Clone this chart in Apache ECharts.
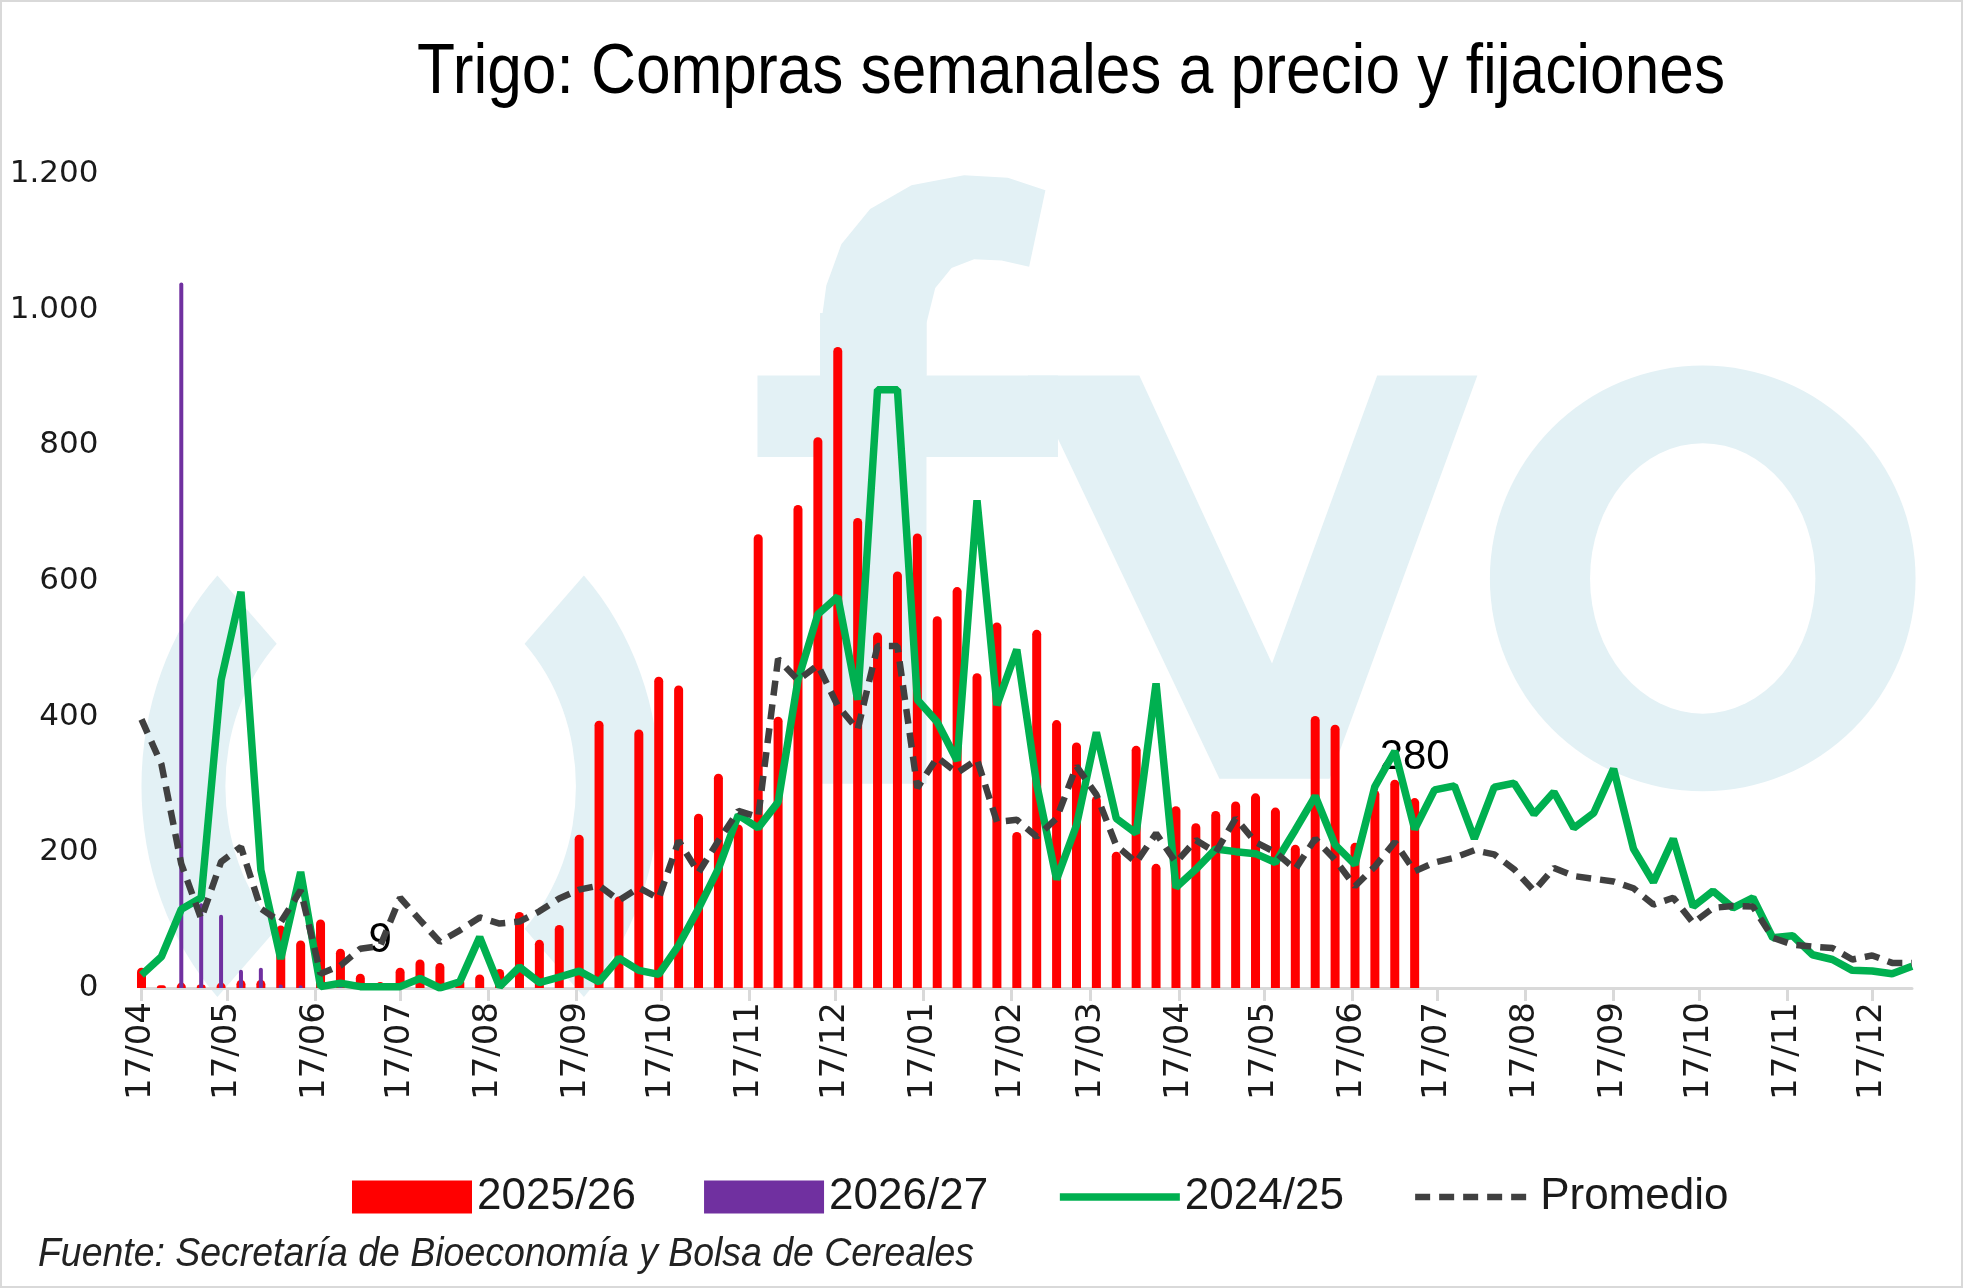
<!DOCTYPE html>
<html>
<head>
<meta charset="utf-8">
<script src="https://cdn.jsdelivr.net/npm/echarts@6/dist/echarts.min.js"></script>
<style>
html,body{margin:0;padding:0;background:#fff;}
#chart{width:1963px;height:1288px;}
</style>
</head>
<body>
<div id="chart"></div>
<script>
// ---- data (weekly, first week = 17/04) ----
const weekStart = [2025, 4, 17];
const tickLabels = ['17/04','17/05','17/06','17/07','17/08','17/09','17/10','17/11','17/12',
  '17/01','17/02','17/03','17/04','17/05','17/06','17/07','17/08','17/09','17/10','17/11','17/12'];
const seriesNames = ['2025/26','2026/27','2024/25','Promedio'];
const red2526 = [30,4,8,5,8,12,12,92,70,101,58,21,9,30,42,37,14,20,28,
  112,71,93,226,394,135,381,459,446,257,316,241,669,400,712,812,945,693,524,614,
  670,548,591,464,539,230,528,395,362,283,201,357,183,268,243,261,275,287,266,211,
  401,388,214,292,307,280];
const purple2627 = [null,null,1040,125,108,27,30,5,4,null,6,4,5];
const green2425 = [19,46,116,133,454,584,174,43,171,2,7,2,2,2,14,0,9,75,2,
  31,8,16,25,9,44,26,20,63,117,176,255,236,274,454,551,577,425,882,882,
  425,392,335,719,417,499,300,160,240,377,250,228,449,148,175,205,201,198,185,233,
  283,211,182,297,349,234,292,298,220,296,302,256,289,236,258,323,205,156,220,120,143,118,133,74,77,49,42,26,25,21,32];
const promedio = [396,330,183,102,186,208,117,97,144,21,33,58,62,133,100,68,85,104,95,
  98,113,132,145,151,129,148,132,217,170,217,261,252,485,454,476,416,381,504,504,
  295,340,317,337,245,248,223,250,327,285,210,185,228,185,218,200,250,215,200,175,
  220,189,150,179,215,172,185,192,203,197,175,143,177,165,161,157,147,123,133,96,118,121,120,74,64,61,59,42,48,37,37];
const labelledWeeks = [12, 64];
const titleText = 'Trigo: Compras semanales a precio y fijaciones';
const sourceText = 'Fuente: Secretaría de Bioeconomía y Bolsa de Cereales';

// ---- helpers ----
const DAY = 86400000;
const t0 = Date.UTC(weekStart[0], weekStart[1]-1, weekStart[2]);
let yr = weekStart[0], prevM = 0;
const tickDays = tickLabels.map(function(l){
  const p = l.split('/'); const d = +p[0], m = +p[1];
  if (m < prevM) yr++; prevM = m;
  return Math.round((Date.UTC(yr, m-1, d) - t0)/DAY);
});
const dayToLabel = {}; tickDays.forEach(function(d,i){ dayToLabel[d] = tickLabels[i]; });
const maxDay = (green2425.length - 1) * 7;
function pairs(arr){ return arr.map(function(v,i){ return [i*7, v]; }); }
function thousands(v){ return String(v).replace(/\B(?=(\d{3})+(?!\d))/g, '.'); }
function measure(text, font){
  const c = document.createElement('canvas').getContext('2d'); c.font = font;
  return c.measureText(text).width;
}

const redData = red2526.map(function(v,i){
  const item = {value:[i*7, v]};
  if (labelledWeeks.indexOf(i) >= 0) item.label = {show:true};
  return item;
});

const titleFont = '70px "Liberation Sans"';
const titleScale = 1308 / measure(titleText, titleFont);
const srcFont = 'italic 40px "Liberation Sans"';
const srcScale = 936 / measure(sourceText, srcFont);

const greenStyle = {color:'#00b050', width:7.5, type:'solid'};
const dashStyle = {color:'#404040', width:6.5, type:[15,9], cap:'butt'};

const wm = '#e3f1f5';
const S = 1.252;
const watermark = {
  type:'group', x:0, y:0, scaleX:S, scaleY:S, silent:true,
  children:[
    {type:'sector', x:320, y:628, scaleY:1.15, z:-10,
     shape:{cx:0,cy:0,r:207,r0:140,startAngle:Math.PI*0.75,endAngle:Math.PI*1.25}, style:{fill:wm}},
    {type:'sector', x:320, y:628, scaleY:1.15, z:-10,
     shape:{cx:0,cy:0,r:207,r0:140,startAngle:-Math.PI*0.25,endAngle:Math.PI*0.25}, style:{fill:wm}},
    {type:'rect', z:-10, shape:{x:655,y:250,width:85,height:376}, style:{fill:wm}},
    {type:'rect', z:-10, shape:{x:605,y:300,width:240,height:65}, style:{fill:wm}},
    {type:'polygon', z:-10, shape:{points:[[655,300],[655,265],[660,228],[672,195],[695,167],[728,148],[770,140],
      [805,142],[835,152],[822,213],[800,208],[778,207],[760,214],[747,230],[740,258],[740,300]]}, style:{fill:wm}},
    {type:'polygon', z:-10, shape:{points:[[821,300],[910,300],[1016,530],[1100,300],[1180,300],[1062,622],[974,622]]}, style:{fill:wm}},
    {type:'circle', x:1360, y:462, z:-10, shape:{cx:0,cy:0,r:170}, style:{fill:wm}},
    {type:'circle', x:1360, y:462, scaleY:1.2, z:-9, shape:{cx:0,cy:0,r:90}, style:{fill:'#ffffff'}}
  ]
};

const chart = echarts.init(document.getElementById('chart'), null, {renderer:'canvas'});
const xAxisBase = {
  type:'value', min:0, max:maxDay,
  splitLine:{show:false}
};
const option = {
  backgroundColor:'#ffffff',
  animation:false,
  graphic:[
    watermark,
    {type:'rect', z:-20, silent:true, shape:{x:1,y:1,width:1961,height:1286},
     style:{fill:null, stroke:'#d9d9d9', lineWidth:2}},
    {type:'text', x:417, y:74, scaleX:titleScale, z:10,
     style:{text:titleText, x:0, y:0, font:titleFont, fill:'#000000',
            textAlign:'left', textVerticalAlign:'middle', align:'left', verticalAlign:'middle'}},
    {type:'text', x:38, y:1255, scaleX:srcScale, z:10,
     style:{text:sourceText, x:0, y:0, font:srcFont, fill:'#222222',
            textAlign:'left', textVerticalAlign:'middle', align:'left', verticalAlign:'middle'}}
  ],
  grid:{left:141.5, right:51, top:174, bottom:300, containLabel:false},
  legend:{
    left:347, top:1170, itemGap:68, itemWidth:120, itemHeight:33,
    textStyle:{fontFamily:'Liberation Sans', fontSize:44, color:'#1a1a1a'},
    data:[{name:seriesNames[0], icon:'rect'},{name:seriesNames[1], icon:'rect'},
          {name:seriesNames[2], itemStyle:{opacity:0}, lineStyle:greenStyle},
          {name:seriesNames[3], itemStyle:{opacity:0}, lineStyle:dashStyle}]
  },
  xAxis:[
    Object.assign({}, xAxisBase, {
      axisLine:{show:true, lineStyle:{color:'#d9d9d9', width:3}},
      axisTick:{show:true, customValues:tickDays, length:13, lineStyle:{color:'#d9d9d9', width:3}},
      axisLabel:{show:true, customValues:tickDays, rotate:90, margin:14,
        fontFamily:'DejaVu Sans', fontSize:34, color:'#1a1a1a',
        formatter:function(v){ return dayToLabel[Math.round(v)] || ''; }}
    }),
    Object.assign({}, xAxisBase, {show:false})
  ],
  yAxis:{
    type:'value', min:0, max:1200, interval:200,
    axisLine:{show:false}, axisTick:{show:false}, splitLine:{show:false},
    axisLabel:{fontFamily:'DejaVu Sans', fontSize:31, color:'#1a1a1a', margin:43,
      formatter:function(v){ return thousands(v); }}
  },
  series:[
    {name:seriesNames[0], type:'bar', xAxisIndex:0, data:redData, barWidth:9,
     itemStyle:{color:'#ff0000', borderRadius:[4.5,4.5,0,0]},
     label:{show:false, position:'top', distance:20, fontFamily:'Liberation Sans', fontSize:42, color:'#000000',
       formatter:function(p){ return p.value[1]; }}},
    {name:seriesNames[1], type:'bar', xAxisIndex:1, data:pairs(purple2627), barWidth:4,
     itemStyle:{color:'#7030a0', borderRadius:[2,2,0,0]}},
    {name:seriesNames[2], type:'line', data:pairs(green2425), symbol:'none',
     lineStyle:greenStyle, itemStyle:{color:'#00b050'}},
    {name:seriesNames[3], type:'line', data:pairs(promedio), symbol:'none',
     lineStyle:dashStyle, itemStyle:{color:'#404040'}}
  ]
};
chart.setOption(option);
</script>
</body>
</html>
